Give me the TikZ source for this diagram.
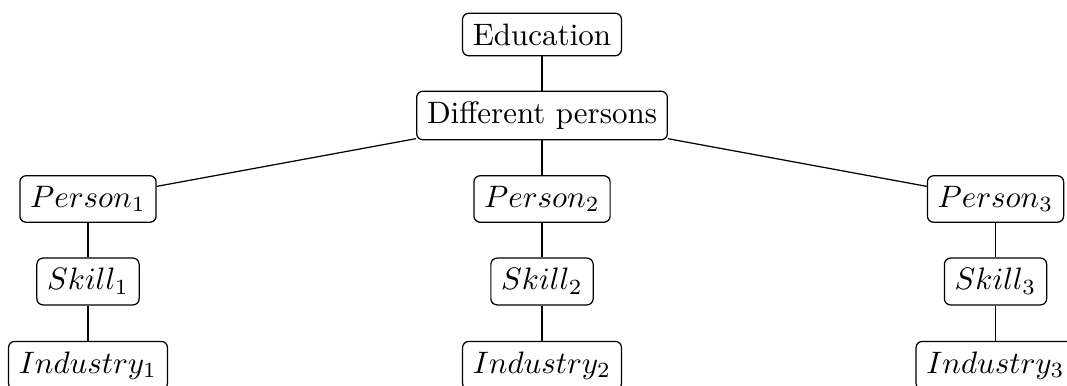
\documentclass[tikz,border=0pt]{standalone}
\begin{document}
\begin{tikzpicture}[x=0.32258pt,y=-0.32258pt,
  box/.style={draw,rounded corners=2pt,inner sep=0.3333em,line width=0.4pt},
  link/.style={line width=0.4pt}]
\clip (0,0) rectangle (1067,386);
% top of the tree
\node[box] (edu) at (542,34.5) {Education};
\node[box] (dp) at (542,115.5) {Different persons};
% persons
\node[box] (p1) at (88,199) {$Person_1$};
\node[box] (p2) at (542,199) {$Person_2$};
\node[box] (p3) at (995.5,199) {$Person_3$};
% skills
\node[box] (s1) at (88,281.5) {$Skill_1$};
\node[box] (s2) at (542,281.5) {$Skill_2$};
\node[box] (s3) at (995.5,281.5) {$Skill_3$};
% industries
\node[box] (i1) at (88,365.5) {$Industry_1$};
\node[box] (i2) at (542,365.5) {$Industry_2$};
\node[box] (i3) at (995.5,365.5) {$Industry_3$};
% connectors
\draw[link] (edu) -- (dp);
\draw[link] (dp) -- (p1);
\draw[link] (dp) -- (p2);
\draw[link] (dp) -- (p3);
\draw[link] (p1) -- (s1);
\draw[link] (p2) -- (s2);
\draw[link] (p3) -- (s3);
\draw[link] (s1) -- (i1);
\draw[link] (s2) -- (i2);
\draw[link] (s3) -- (i3);
\end{tikzpicture}
\end{document}
